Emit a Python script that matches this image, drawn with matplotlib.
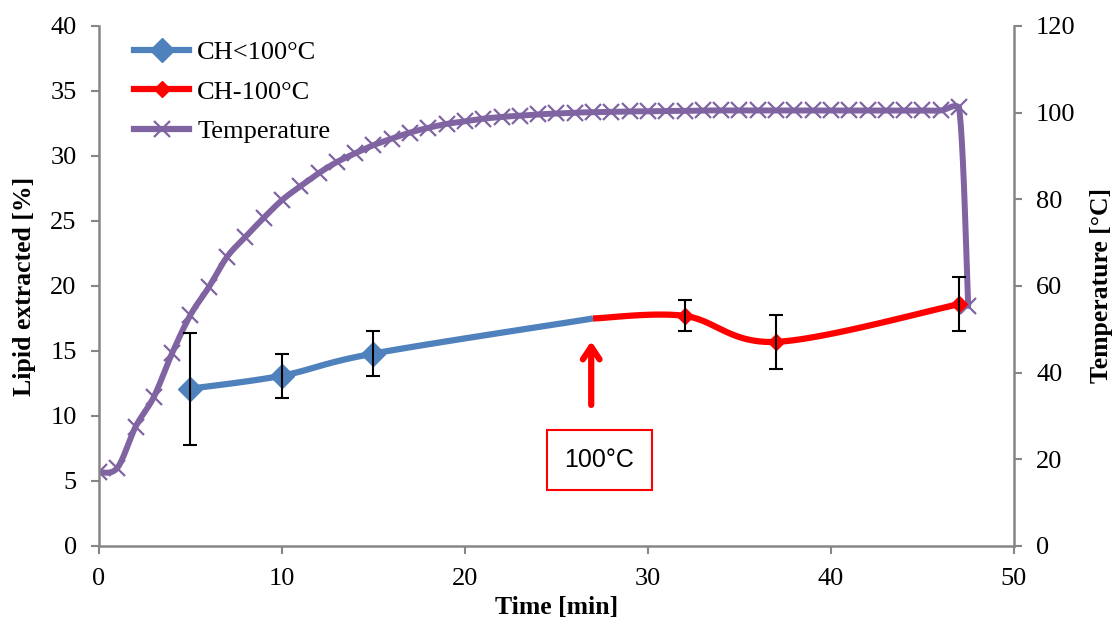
import numpy as np
import matplotlib
matplotlib.use("Agg")
import matplotlib.pyplot as plt
from matplotlib.lines import Line2D

# ---- data ----
t_below = [5, 10, 15, 27]
lipid_below = [12.1, 13.1, 14.8, 17.5]
err_below = [4.3, 1.7, 1.7, 0.0]

t_at = [27, 32, 37, 47]
lipid_at = [17.5, 17.7, 15.7, 18.6]
err_at = [0.0, 1.2, 2.1, 2.1]

t_temp = list(range(0, 48)) + [47.5]
temp = [17.0, 18.0, 27.5, 34.4, 44.5, 53.3, 59.7, 66.7, 71.3, 75.7,
        79.8, 83.0, 86.0, 88.6, 90.6, 92.5, 94.0, 95.4, 96.5, 97.4,
        98.0, 98.6, 99.0, 99.3, 99.6, 99.8, 100.0, 100.1, 100.2, 100.3,
        100.3, 100.4, 100.4, 100.5, 100.5, 100.5, 100.5, 100.5, 100.5, 100.5,
        100.5, 100.5, 100.5, 100.5, 100.5, 100.5, 100.5, 101.2, 55.4]

BLUE = "#4F81BD"
RED = "#FF0000"
PURPLE = "#8064A2"
GRAY = "#868686"

serif = ["Liberation Serif", "DejaVu Serif"]
plt.rcParams["font.family"] = serif


def smooth(x, y, xs, ys, n=30, clamp=None):
    """Excel-like Bezier smoothing drawn in scaled coordinates."""
    x = np.asarray(x, float) / xs
    y = np.asarray(y, float) / ys
    px, py = [], []
    m = len(x)
    for i in range(m - 1):
        x0, y0 = (x[i - 1], y[i - 1]) if i > 0 else (x[i], y[i])
        x3, y3 = (x[i + 2], y[i + 2]) if i + 2 < m else (x[i + 1], y[i + 1])
        c1x = x[i] + (x[i + 1] - x0) / 6
        c1y = y[i] + (y[i + 1] - y0) / 6
        c2x = x[i + 1] - (x3 - x[i]) / 6
        c2y = y[i + 1] - (y3 - y[i]) / 6
        if clamp is not None:
            lo = min(y[i], y[i + 1]) - clamp / ys
            hi = max(y[i], y[i + 1]) + clamp / ys
            c1y = min(max(c1y, lo), hi)
            c2y = min(max(c2y, lo), hi)
        s = np.linspace(0, 1, n)
        bx = (1 - s) ** 3 * x[i] + 3 * (1 - s) ** 2 * s * c1x + 3 * (1 - s) * s ** 2 * c2x + s ** 3 * x[i + 1]
        by = (1 - s) ** 3 * y[i] + 3 * (1 - s) ** 2 * s * c1y + 3 * (1 - s) * s ** 2 * c2y + s ** 3 * y[i + 1]
        px.extend(bx)
        py.extend(by)
    return np.array(px) * xs, np.array(py) * ys


fig = plt.figure(figsize=(11.13, 6.21), dpi=100)
ax = fig.add_axes([0.0889, 0.1208, 0.8221, 0.8374])
ax2 = ax.twinx()

ax.set_xlim(0, 50)
ax.set_ylim(0, 40)
ax2.set_ylim(0, 120)

XS, YS = 50 / 915, 40 / 520  # data units per pixel

# temperature
tx, ty = smooth(t_temp, temp, XS, 120 / 520, clamp=1.0)
ax2.plot(tx, ty, color=PURPLE, lw=4.3, solid_capstyle="round", zorder=2)
ax2.plot(t_temp, temp, ls="none", marker="x", ms=12, mew=1.6, color=PURPLE, zorder=3)

ax.set_zorder(ax2.get_zorder() + 1)
ax.patch.set_visible(False)

bx, by = smooth(t_below, lipid_below, XS, YS)
ax.plot(bx, by, color=BLUE, lw=4.5, solid_capstyle="butt", zorder=2)
ax.plot(t_below[:3], lipid_below[:3], ls="none", marker="D", ms=12, color=BLUE, zorder=3)
ax.errorbar(t_below[:3], lipid_below[:3], yerr=err_below[:3], fmt="none",
            ecolor="black", elinewidth=1.5, capsize=5, capthick=1.5, zorder=4)

rx, ry = smooth(t_at, lipid_at, XS, YS)
ax.plot(rx, ry, color=RED, lw=4.5, solid_capstyle="butt", zorder=2)
ax.plot(t_at[1:], lipid_at[1:], ls="none", marker="D", ms=8.5, color=RED, zorder=3)
ax.errorbar(t_at[1:], lipid_at[1:], yerr=err_at[1:], fmt="none",
            ecolor="black", elinewidth=1.5, capsize=5, capthick=1.5, zorder=4)

# annotation
ax.annotate("", xy=(26.9, 15.75), xytext=(26.9, 10.85),
            arrowprops=dict(arrowstyle="->,head_length=0.9,head_width=0.6",
                            color=RED, lw=4.5, shrinkA=0, shrinkB=0))
ax.text(27.35, 6.6, "100°C", ha="center", va="center", fontsize=18,
        family=["Liberation Sans", "DejaVu Sans"],
        bbox=dict(boxstyle="square,pad=0.72", fc="white", ec=RED, lw=1.5))

# axes styling
for a in (ax, ax2):
    a.spines["top"].set_visible(False)
    for s in ("left", "right", "bottom"):
        a.spines[s].set_color(GRAY)
        a.spines[s].set_linewidth(1.8)
    a.tick_params(colors=GRAY, labelcolor="black", labelsize=19, width=1.5, length=6)

ax.spines["right"].set_visible(False)
ax2.spines["left"].set_visible(False)
ax2.spines["bottom"].set_visible(False)

ax.set_xticks(range(0, 51, 10))
ax.set_yticks(range(0, 41, 5))
ax2.set_yticks(range(0, 121, 20))
ax.tick_params(axis="x", pad=10)
ax.tick_params(axis="y", pad=10)
ax2.tick_params(axis="y", pad=10)

ax.set_xlabel("Time [min]", fontsize=18.5, fontweight="bold", labelpad=4)
ax.set_ylabel("Lipid extracted [%]", fontsize=18.5, fontweight="bold", labelpad=10)
ax2.set_ylabel("Temperature [°C]", fontsize=18.5, fontweight="bold", labelpad=10)

handles = [
    Line2D([], [], color=BLUE, lw=4.5, marker="D", ms=12),
    Line2D([], [], color=RED, lw=4.5, marker="D", ms=8.5),
    Line2D([], [], color=PURPLE, lw=4.5, marker="x", ms=12, mew=1.6),
]
leg = ax.legend(handles, ["CH<100°C", "CH-100°C", "Temperature"], loc="upper left",
                bbox_to_anchor=(0.021, 1.002), frameon=False, fontsize=19,
                handlelength=2.1, handletextpad=0.3, labelspacing=0.6,
                borderaxespad=0.2)

fig.savefig("out.png", dpi=100)
